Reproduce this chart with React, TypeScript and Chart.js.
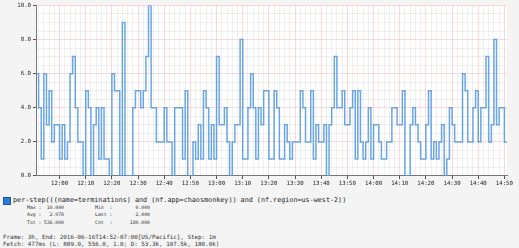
import React, { useEffect, useRef } from 'react';
import { Chart, registerables } from 'chart.js';

Chart.register(...registerables);

// Minutes since midnight of the first step (11:51 local)
const START_MINUTE = 11 * 60 + 51;
const STEP_COUNT = 180;

const VALUES: number[] = [
  6, 4, 1, 6, 3, 5, 2, 3, 3, 1,
  3, 1, 2, 6, 7, 4, 2, 2, 0, 5,
  4, 0, 3, 4, 1, 4, 1, 1, 0, 6,
  5, 5, 0, 9, 0, 0, 0, 4, 5, 5,
  4, 5, 7, 10, 4, 4, 2, 2, 2, 4,
  2, 2, 0, 4, 4, 4, 1, 5, 0, 0,
  2, 1, 3, 1, 5, 4, 1, 3, 1, 7,
  3, 3, 4, 2, 0, 2, 3, 3, 8, 1,
  1, 4, 6, 4, 1, 4, 3, 5, 5, 1,
  1, 5, 4, 1, 1, 3, 2, 1, 2, 2,
  2, 5, 4, 2, 2, 5, 1, 3, 2, 2,
  3, 0, 3, 4, 7, 4, 4, 5, 3, 3,
  4, 5, 1, 5, 2, 1, 2, 4, 1, 3,
  3, 2, 1, 1, 2, 2, 4, 4, 3, 3,
  5, 0, 0, 3, 4, 3, 2, 1, 1, 3,
  5, 1, 2, 1, 2, 3, 0, 1, 4, 3,
  2, 2, 2, 6, 5, 2, 2, 4, 5, 2,
  4, 4, 7, 2, 3, 8, 3, 4, 4, 2,
];

const Y_MIN = 0;
const Y_MAX = 10;
const Y_MAJOR_STEP = 2;
const Y_MINOR_STEP = 0.5;
const X_MAJOR_MINUTES = 10;
const X_MINOR_MINUTES = 2;

const LEGEND_LABEL =
  'per-step(((name=terminations) and (nf.app=chaosmonkey)) and (nf.region=us-west-2))';
const STATS_LEFT_LABELS = ['Max :', 'Avg :', 'Tot :'];
const STATS_LEFT_VALUES = ['10.000', '2.978', '536.000'];
const STATS_RIGHT_LABELS = ['Min  :', 'Last :', 'Cnt  :'];
const STATS_RIGHT_VALUES = ['0.000', '2.000', '180.000'];
const FOOTER_LINES = [
  'Frame: 3h, End: 2016-06-16T14:52-07:00[US/Pacific], Step: 1m',
  'Fetch: 477ms (L: 889.0, 556.0, 1.0; D: 53.3k, 107.5k, 180.0k)',
];

const MONO = '"DejaVu Sans Mono", "Liberation Mono", monospace';
const LINE_COLOR = 'rgba(80, 150, 228, 0.85)';
const MAJOR_GRID = 'rgba(250, 170, 170, 0.45)';
const MINOR_GRID = 'rgba(0, 0, 0, 0.055)';

const pad2 = (n: number) => (n < 10 ? '0' + n : String(n));
const minuteLabel = (v: number) => {
  const m = START_MINUTE + v;
  return pad2(Math.floor(m / 60) % 24) + ':' + pad2(m % 60);
};
const isXMajor = (v: number) => (START_MINUTE + v) % X_MAJOR_MINUTES === 0;
const isYMajor = (v: number) => Math.abs(v / Y_MAJOR_STEP - Math.round(v / Y_MAJOR_STEP)) < 1e-6;

const plotAreaPlugin = {
  id: 'plotArea',
  beforeDraw(chart: any) {
    const { ctx, chartArea } = chart;
    ctx.save();
    ctx.fillStyle = '#ffffff';
    ctx.fillRect(chartArea.left, chartArea.top, chartArea.right - chartArea.left, chartArea.bottom - chartArea.top);
    ctx.restore();
  },
};

function TimeSeriesChart() {
  const ref = useRef<HTMLCanvasElement | null>(null);

  useEffect(() => {
    if (!ref.current) return;
    const points = VALUES.map((v, i) => ({ x: i, y: v }));
    points.push({ x: STEP_COUNT, y: VALUES[VALUES.length - 1] });

    const chart = new Chart(ref.current, {
      type: 'line',
      data: {
        datasets: [
          {
            data: points,
            borderColor: LINE_COLOR,
            borderWidth: 1.5,
            pointRadius: 0,
            stepped: 'before',
            fill: false,
          },
        ],
      },
      plugins: [plotAreaPlugin],
      options: {
        animation: false,
        responsive: false,
        maintainAspectRatio: false,
        devicePixelRatio: 1,
        layout: { padding: { top: 4, right: 12, left: 0, bottom: 0 } },
        plugins: { legend: { display: false }, tooltip: { enabled: false } },
        scales: {
          x: {
            type: 'linear',
            min: 0,
            max: STEP_COUNT,
            afterBuildTicks: (scale: any) => {
              const ticks = [];
              for (let v = 0; v <= STEP_COUNT; v++) {
                if ((START_MINUTE + v) % X_MINOR_MINUTES === 0) ticks.push({ value: v });
              }
              scale.ticks = ticks;
            },
            afterFit: (scale: any) => {
              scale.height = 16;
            },
            grid: {
              color: (c: any) => (c.tick && isXMajor(c.tick.value) ? MAJOR_GRID : MINOR_GRID),
              tickColor: (c: any) => (c.tick && isXMajor(c.tick.value) ? '#555' : 'rgba(0,0,0,0)'),
              tickLength: 3,
              lineWidth: 1,
            },
            border: { color: '#777', width: 1 },
            ticks: {
              autoSkip: false,
              maxRotation: 0,
              minRotation: 0,
              padding: 1,
              color: '#222',
              font: { family: MONO, size: 5.7 },
              callback: (v: any) => (isXMajor(Number(v)) ? minuteLabel(Number(v)) : ''),
            },
          },
          y: {
            min: Y_MIN,
            max: Y_MAX,
            afterBuildTicks: (scale: any) => {
              const ticks = [];
              for (let v = Y_MIN; v <= Y_MAX + 1e-9; v += Y_MINOR_STEP) ticks.push({ value: v });
              scale.ticks = ticks;
            },
            afterFit: (scale: any) => {
              scale.width = 36;
            },
            grid: {
              color: (c: any) => (c.tick && isYMajor(c.tick.value) ? MAJOR_GRID : MINOR_GRID),
              tickColor: (c: any) => (c.tick && isYMajor(c.tick.value) ? '#555' : 'rgba(0,0,0,0)'),
              tickLength: 3,
              lineWidth: 1,
            },
            border: { color: '#777', width: 1 },
            ticks: {
              autoSkip: false,
              padding: 2,
              color: '#222',
              font: { family: MONO, size: 5.7 },
              callback: (v: any) => (isYMajor(Number(v)) ? Number(v).toFixed(1) : ''),
            },
          },
        },
      },
    } as any);
    return () => chart.destroy();
  }, []);

  return <canvas ref={ref} width={519} height={192} style={{ display: 'block', position: 'absolute', left: 0, top: 0 }} />;
}

export default function App() {
  const text: React.CSSProperties = {
    position: 'absolute',
    fontFamily: MONO,
    whiteSpace: 'pre',
    color: '#222',
  };
  const stat: React.CSSProperties = { ...text, fontSize: 4.8, lineHeight: '6px', color: '#333' };
  return (
    <div
      style={{
        position: 'fixed',
        left: 0,
        top: 0,
        width: 519,
        height: 248,
        background: '#f4f4f4',
        overflow: 'hidden',
      }}
    >
      <TimeSeriesChart />
      <div
        style={{
          position: 'absolute',
          left: 3,
          top: 197,
          width: 6,
          height: 6,
          background: '#2b7ad8',
          border: '1px solid #1b5aa8',
        }}
      />
      <div style={{ ...text, left: 13, top: 196, fontSize: 6.75, lineHeight: '9px' }}>{LEGEND_LABEL}</div>
      {STATS_LEFT_LABELS.map((l, i) => (
        <React.Fragment key={l}>
          <div style={{ ...stat, left: 27, top: 205 + i * 7.3 }}>{l}</div>
          <div style={{ ...stat, left: 38, width: 26, textAlign: 'right', top: 205 + i * 7.3 }}>{STATS_LEFT_VALUES[i]}</div>
          <div style={{ ...stat, left: 95, top: 205 + i * 7.3 }}>{STATS_RIGHT_LABELS[i]}</div>
          <div style={{ ...stat, left: 110, width: 40, textAlign: 'right', top: 205 + i * 7.3 }}>{STATS_RIGHT_VALUES[i]}</div>
        </React.Fragment>
      ))}
      {FOOTER_LINES.map((l, i) => (
        <div key={l} style={{ ...text, left: 3, top: 234 + i * 6.6, fontSize: 5.9, lineHeight: '7px', color: '#333' }}>
          {l}
        </div>
      ))}
    </div>
  );
}
